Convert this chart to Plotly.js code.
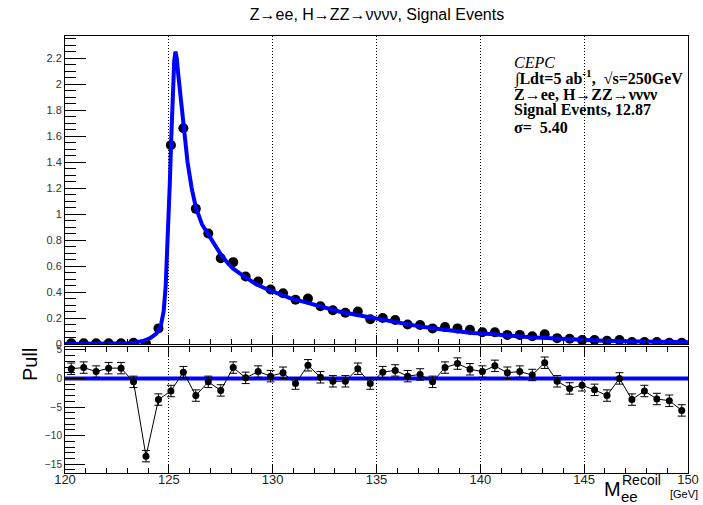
<!DOCTYPE html>
<html>
<head>
<meta charset="utf-8">
<script src="https://cdn.plot.ly/plotly-3.0.1.min.js"></script>
<style>html,body{margin:0;padding:0;background:#fff;}#chart{width:703px;height:505px;}</style>
</head>
<body>
<div id="chart"></div>
<script>
// Bin centres (GeV), 0.6 GeV bins from 120 to 150
const binCenters = [120.3,120.9,121.5,122.1,122.7,123.3,123.9,124.5,125.1,125.7,
  126.3,126.9,127.5,128.1,128.7,129.3,129.9,130.5,131.1,131.7,
  132.3,132.9,133.5,134.1,134.7,135.3,135.9,136.5,137.1,137.7,
  138.3,138.9,139.5,140.1,140.7,141.3,141.9,142.5,143.1,143.7,
  144.3,144.9,145.5,146.1,146.7,147.3,147.9,148.5,149.1,149.7];
// Signal events per bin
const signalCounts = [0.005,0.005,0.005,0.005,0.005,0.01,0.004,0.12,1.53,1.66,
  1.04,0.85,0.66,0.63,0.52,0.48,0.42,0.39,0.34,0.35,
  0.29,0.26,0.24,0.25,0.19,0.20,0.185,0.15,0.146,0.12,
  0.13,0.12,0.11,0.09,0.09,0.07,0.07,0.06,0.075,0.045,
  0.04,0.03,0.03,0.025,0.03,0.015,0.015,0.015,0.01,0.01];
// Fit curve
const fitX = [120,121,122,122.6,123.0,123.4,123.8,124.1,124.4,124.6,124.75,124.85,124.95,125.05,125.12,125.2,125.26,125.32,125.38,125.45,125.55,125.7,125.9,126.1,126.3,126.6,126.9,127.2,127.5,127.8,128.1,128.4,128.7,129.2,129.9,130.8,131.6,132.4,133.2,134.0,134.8,135.6,136.4,137.2,138.0,138.8,139.6,140.5,141.5,142.4,143.2,144.0,144.8,145.6,146.3,147.2,148.0,149.0,150];
const fitY = [0,0,0.001,0.003,0.006,0.012,0.025,0.045,0.08,0.13,0.25,0.45,0.8,1.25,1.6,1.95,2.18,2.25,2.2,2.08,1.92,1.68,1.40,1.20,1.05,0.92,0.84,0.76,0.69,0.63,0.58,0.545,0.51,0.46,0.41,0.355,0.32,0.285,0.25,0.225,0.20,0.175,0.15,0.132,0.115,0.10,0.085,0.076,0.062,0.052,0.046,0.038,0.031,0.027,0.023,0.019,0.016,0.014,0.013];
// Pulls per bin and their errors
const pullValues = [1.7,1.9,1.2,1.8,1.8,-0.6,-13.6,-3.7,-2.2,1.1,
  -3.0,-0.6,-2.1,1.9,0.1,1.2,0.4,1.0,-0.9,2.3,
  0.2,-0.5,-0.5,1.7,-0.9,1.1,1.4,0.4,0.7,-0.6,
  1.9,2.6,1.6,1.2,2.2,1.0,1.2,0.6,2.75,-0.5,
  -1.75,-1.2,-2.0,-3.0,0.0,-3.7,-2.2,-3.6,-3.9,-5.6];
const pullErrors = [1,1,1,1,1,1,1,1,1,1,1,1,1,1,1,1,1,1,1,1,1,1,1,1,1,
  1,1,1,1,1,1,1,1,1,1,1,1,1,1,1,1,1,1,1,1,1,1,1,1,1];
const xRange = [120,150];
const legendLines = ['<i>CEPC</i>',
  '<b>\u222BLdt=5 ab<sup>-1</sup>,\u00a0\u00a0\u221As=250GeV</b>',
  '<b>Z\u2192ee, H\u2192ZZ\u2192\u03BD\u03BD\u03BD\u03BD</b>',
  '<b>Signal Events, 12.87</b>',
  '<b>\u03C3=\u00a0\u00a05.40</b>'];

const W = 703, H = 505, ML = 65, MR = 15, MT = 36, MB = 32;
const PW = W - ML - MR, PH = H - MT - MB;
const px = v => (v - ML) / PW;
const py = v => (H - MB - v) / PH;

const sans = 'Liberation Sans, Arial, sans-serif';
const serif = 'Liberation Serif, Times New Roman, serif';

const traces = [
  {x: binCenters, y: signalCounts, type: 'scatter', mode: 'markers', xaxis: 'x', yaxis: 'y',
   marker: {color: '#000', size: 10}, hoverinfo: 'x+y', showlegend: false},
  {x: fitX, y: fitY, type: 'scatter', mode: 'lines', xaxis: 'x', yaxis: 'y',
   line: {color: '#0000ff', width: 4}, showlegend: false},
  {x: xRange, y: [0, 0], type: 'scatter', mode: 'lines', xaxis: 'x2', yaxis: 'y2',
   line: {color: '#0000ff', width: 4}, showlegend: false},
  {x: binCenters, y: pullValues, type: 'scatter', mode: 'lines+markers', xaxis: 'x2', yaxis: 'y2',
   line: {color: '#000', width: 1}, marker: {color: '#000', size: 7},
   error_y: {type: 'data', array: pullErrors, visible: true, color: '#000', thickness: 1, width: 4},
   showlegend: false}
];

const annotations = [];
const legY = [62, 78, 94, 110, 127];
legendLines.forEach((t, i) => annotations.push({
  xref: 'paper', yref: 'paper', x: px(512), y: py(legY[i]), xanchor: 'left', yanchor: 'middle',
  text: t, showarrow: false, font: {family: serif, size: 16, color: '#000'}
}));
annotations.push({xref: 'paper', yref: 'paper', x: px(30), y: py(365), text: 'Pull', textangle: -90,
  showarrow: false, xanchor: 'center', yanchor: 'middle', font: {family: sans, size: 20, color: '#000'}});
annotations.push({xref: 'paper', yref: 'paper', x: px(602), y: py(489), text: 'M', showarrow: false,
  xanchor: 'left', yanchor: 'middle', font: {family: sans, size: 20, color: '#000'}});
annotations.push({xref: 'paper', yref: 'paper', x: px(620), y: py(480), text: 'Recoil', showarrow: false,
  xanchor: 'left', yanchor: 'middle', font: {family: sans, size: 14, color: '#000'}});
annotations.push({xref: 'paper', yref: 'paper', x: px(619), y: py(496), text: 'ee', showarrow: false,
  xanchor: 'left', yanchor: 'middle', font: {family: sans, size: 15, color: '#000'}});
annotations.push({xref: 'paper', yref: 'paper', x: px(668), y: py(494), text: '[GeV]', showarrow: false,
  xanchor: 'left', yanchor: 'middle', font: {family: sans, size: 11, color: '#000'}});

const xCommon = {
  range: xRange, dtick: 5, tick0: 120, ticks: 'inside', ticklen: 9, tickcolor: '#000',
  showgrid: true, gridcolor: '#000', gridwidth: 1, griddash: '1px,2px',
  showline: true, linecolor: '#000', linewidth: 1, zeroline: false,
  minor: {dtick: 1, ticks: 'inside', ticklen: 5, tickcolor: '#000', showgrid: false},
  tickfont: {family: sans, size: 13, color: '#222'}
};

const layout = {
  width: W, height: H,
  margin: {l: ML, r: MR, t: MT, b: MB, pad: 0},
  paper_bgcolor: '#fff', plot_bgcolor: '#fff',
  title: {text: 'Z\u2192ee, H\u2192ZZ\u2192\u03BD\u03BD\u03BD\u03BD, Signal Events', x: px(377), xref: 'paper',
    y: 1 - 14 / H, yref: 'container', xanchor: 'center', yanchor: 'middle',
    font: {family: sans, size: 16, color: '#000'}},
  xaxis: Object.assign({}, xCommon, {anchor: 'y', matches: 'x2', showticklabels: false, mirror: true}),
  xaxis2: Object.assign({}, xCommon, {anchor: 'y2', mirror: 'ticks', ticklabelstandoff: -6}),
  yaxis: {domain: [py(344), 1], range: [0, 2.37], dtick: 0.2, tick0: 0, ticks: 'inside', ticklen: 21,
    tickcolor: '#000', showline: true, linecolor: '#000', mirror: true, zeroline: false, showgrid: false,
    minor: {dtick: 0.05, ticks: 'inside', ticklen: 11, tickcolor: '#000'},
    tickfont: {family: sans, size: 11, color: '#333'}, anchor: 'x'},
  yaxis2: {domain: [0, py(347)], range: [-16.55, 5.5], dtick: 5, tick0: 0, ticks: 'inside', ticklen: 20,
    tickcolor: '#000', showline: true, linecolor: '#000', mirror: true, zeroline: false, showgrid: false,
    minor: {dtick: 1, ticks: 'inside', ticklen: 10, tickcolor: '#000'},
    tickfont: {family: sans, size: 10, color: '#333'}, anchor: 'x2'},
  annotations: annotations,
  showlegend: false
};

Plotly.newPlot('chart', traces, layout, {displayModeBar: false, staticPlot: true});
</script>
</body>
</html>
